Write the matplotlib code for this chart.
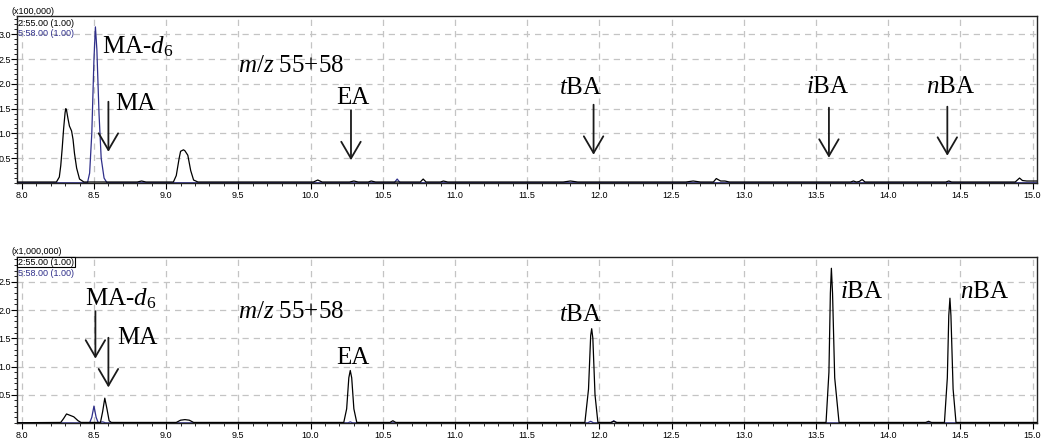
import matplotlib
matplotlib.use("Agg")
import matplotlib.pyplot as plt
from matplotlib.ticker import MultipleLocator, FormatStrFormatter

plt.rcParams['mathtext.fontset'] = 'custom'
plt.rcParams['mathtext.rm'] = 'Liberation Serif'
plt.rcParams['mathtext.it'] = 'Liberation Serif:italic'

# ---- data (time in min, intensity in panel units) ----
# top panel, x100,000
top_55 = [(7.97, 0.02), (8.24, 0.02), (8.26, 0.12), (8.27, 0.35), (8.28, 0.7), (8.29, 1.1),
          (8.30, 1.42), (8.305, 1.50), (8.31, 1.47), (8.32, 1.30), (8.33, 1.15), (8.345, 1.05),
          (8.355, 0.88), (8.365, 0.6), (8.38, 0.3), (8.40, 0.08),
          (8.43, 0.02), (8.80, 0.02), (8.83, 0.04), (8.86, 0.02), (9.05, 0.02), (9.07, 0.15),
          (9.09, 0.5), (9.10, 0.64), (9.12, 0.67), (9.13, 0.65), (9.15, 0.56), (9.17, 0.25),
          (9.19, 0.06), (9.22, 0.02), (10.02, 0.02), (10.05, 0.06), (10.08, 0.02), (10.27, 0.02),
          (10.30, 0.04), (10.33, 0.02), (10.40, 0.02), (10.42, 0.04), (10.45, 0.02), (10.76, 0.02),
          (10.78, 0.08), (10.80, 0.02), (10.90, 0.02), (10.92, 0.04), (10.95, 0.02), (11.75, 0.02),
          (11.80, 0.04), (11.85, 0.02), (12.60, 0.02), (12.65, 0.04), (12.70, 0.02), (12.79, 0.02),
          (12.81, 0.09), (12.84, 0.04), (12.87, 0.04), (12.90, 0.02), (13.74, 0.02), (13.76, 0.04),
          (13.78, 0.02), (13.80, 0.03), (13.82, 0.07), (13.84, 0.02), (14.40, 0.02), (14.42, 0.04),
          (14.44, 0.02), (14.88, 0.02), (14.91, 0.10), (14.93, 0.05), (14.96, 0.04), (15.03, 0.04)]
top_58 = [(7.97, 0.005), (8.455, 0.005), (8.47, 0.2), (8.485, 1.0), (8.50, 2.5), (8.51, 3.15),
          (8.52, 2.7), (8.535, 1.4), (8.55, 0.5), (8.57, 0.1), (8.59, 0.005), (10.58, 0.005),
          (10.60, 0.08), (10.62, 0.005), (15.03, 0.005)]

# bottom panel, x1,000,000
bot_55 = [(7.97, 0.005), (8.27, 0.01), (8.29, 0.08), (8.31, 0.16), (8.33, 0.14), (8.36, 0.11),
          (8.39, 0.04), (8.41, 0.01), (8.545, 0.01), (8.56, 0.2), (8.575, 0.44), (8.59, 0.25),
          (8.605, 0.04), (8.62, 0.01), (9.07, 0.01), (9.10, 0.05), (9.13, 0.06), (9.16, 0.05),
          (9.19, 0.01), (10.23, 0.01), (10.25, 0.25), (10.265, 0.8), (10.275, 0.93), (10.285, 0.8),
          (10.30, 0.25), (10.32, 0.01), (10.55, 0.01), (10.57, 0.04), (10.59, 0.01), (11.90, 0.01),
          (11.925, 0.6), (11.94, 1.55), (11.947, 1.67), (11.955, 1.5), (11.97, 0.5), (11.99, 0.01),
          (12.08, 0.01), (12.10, 0.03), (12.12, 0.01), (13.57, 0.01), (13.59, 0.9), (13.60, 2.3),
          (13.607, 2.74), (13.615, 2.3), (13.63, 0.8), (13.66, 0.01), (14.26, 0.01), (14.28, 0.03),
          (14.30, 0.01), (14.39, 0.01), (14.41, 0.8), (14.42, 1.9), (14.428, 2.21), (14.435, 1.9),
          (14.45, 0.6), (14.47, 0.01), (15.03, 0.01)]
bot_58 = [(7.97, 0.003), (8.47, 0.003), (8.485, 0.1), (8.50, 0.30), (8.515, 0.1), (8.53, 0.003),
          (8.56, 0.02), (8.58, 0.003), (10.26, 0.003), (10.275, 0.02), (10.29, 0.003),
          (11.92, 0.003), (11.94, 0.03), (11.96, 0.003), (12.08, 0.003), (12.10, 0.04),
          (12.12, 0.003), (15.03, 0.003)]

# labels: (text, x, baseline y)
top_labels = [(r"MA-$d_6$", 8.556, 2.61), ("MA", 8.646, 1.47), (r"$m/z$ 55+58", 9.50, 2.24),
              ("EA", 10.18, 1.60), (r"$t$BA", 11.72, 1.80), (r"$i$BA", 13.43, 1.82),
              (r"$n$BA", 14.26, 1.82)]
bot_labels = [(r"MA-$d_6$", 8.44, 2.09), ("MA", 8.66, 1.40), (r"$m/z$ 55+58", 9.50, 1.86),
              ("EA", 10.18, 1.05), (r"$t$BA", 11.72, 1.81), (r"$i$BA", 13.67, 2.21),
              (r"$n$BA", 14.50, 2.21)]
# arrows: (x, top, tip)
top_arrows = [(8.60, 1.64, 0.63), (10.28, 1.47, 0.46), (11.96, 1.58, 0.57),
              (13.59, 1.52, 0.51), (14.41, 1.54, 0.55)]
bot_arrows = [(8.51, 1.98, 1.14), (8.60, 1.51, 0.63)]

BLUE = '#2f2f8a'
W, H = 1043, 448

fig = plt.figure(figsize=(W / 100, H / 100), dpi=100)
ax1 = fig.add_axes([17 / W, 1 - 183 / H, 1020 / W, 167 / H])
ax2 = fig.add_axes([17 / W, 1 - 423 / H, 1020 / W, 166 / H])


def draw_panel(ax, t55, t58, ymax, yticks, labels, arrows):
    ax.plot([p[0] for p in t55], [p[1] for p in t55], color='black', lw=0.9, zorder=3)
    ax.plot([p[0] for p in t58], [p[1] for p in t58], color=BLUE, lw=0.9, zorder=2)
    ax.set_xlim(7.967, 15.031)
    ax.set_ylim(0, ymax)
    ax.xaxis.set_major_locator(MultipleLocator(0.5))
    ax.xaxis.set_minor_locator(MultipleLocator(0.1))
    ax.xaxis.set_major_formatter(FormatStrFormatter('%.1f'))
    ax.set_yticks(yticks)
    ax.yaxis.set_major_formatter(FormatStrFormatter('%.1f'))
    ax.yaxis.set_minor_locator(MultipleLocator(0.1))
    ax.tick_params(axis='both', which='major', labelsize=6.5, length=4, width=0.8,
                   direction='out', pad=2)
    ax.tick_params(axis='both', which='minor', length=2.5, width=0.6, direction='out')
    ax.tick_params(axis='y', pad=0.3)
    for lab in ax.get_xticklabels() + ax.get_yticklabels():
        lab.set_family('Liberation Sans')
    ax.grid(True, which='major', ls=(0, (5, 4)), color='#c4c4c4', lw=0.9, zorder=0)
    for s in ax.spines.values():
        s.set_linewidth(1.0)
        s.set_color('#222222')
    for txt, x, y in labels:
        ax.text(x, y, txt, family='Liberation Serif', fontsize=18, ha='left',
                va='baseline', zorder=4)
    for x, top, tip in arrows:
        ax.annotate('', xy=(x, tip), xytext=(x, top),
                    arrowprops=dict(arrowstyle='->, head_length=0.6, head_width=0.35',
                                    lw=1.3, color='#1a1a1a', mutation_scale=20,
                                    shrinkA=0, shrinkB=0), zorder=4)


draw_panel(ax1, top_55, top_58, 3.37, [0.5, 1.0, 1.5, 2.0, 2.5, 3.0], top_labels, top_arrows)
draw_panel(ax2, bot_55, bot_58, 2.94, [0.5, 1.0, 1.5, 2.0, 2.5], bot_labels, bot_arrows)

# instrument annotations
small = dict(family='Liberation Sans', fontsize=6.5, ha='left', va='center')
fig.text(12 / W, 1 - 12 / H, "(x100,000)", **small)
fig.text(18 / W, 1 - 23 / H, "2:55.00 (1.00)", color='black', **small)
fig.text(18 / W, 1 - 33 / H, "5:58.00 (1.00)", color=BLUE, **small)
fig.text(12 / W, 1 - 252 / H, "(x1,000,000)", **small)
fig.text(18 / W, 1 - 262 / H, "2:55.00 (1.00)", color='black',
         bbox=dict(boxstyle='square,pad=0.1', fc='white', ec='black', lw=0.8), **small)
fig.text(18 / W, 1 - 273 / H, "5:58.00 (1.00)", color=BLUE, **small)

fig.savefig('out.png', dpi=100)
